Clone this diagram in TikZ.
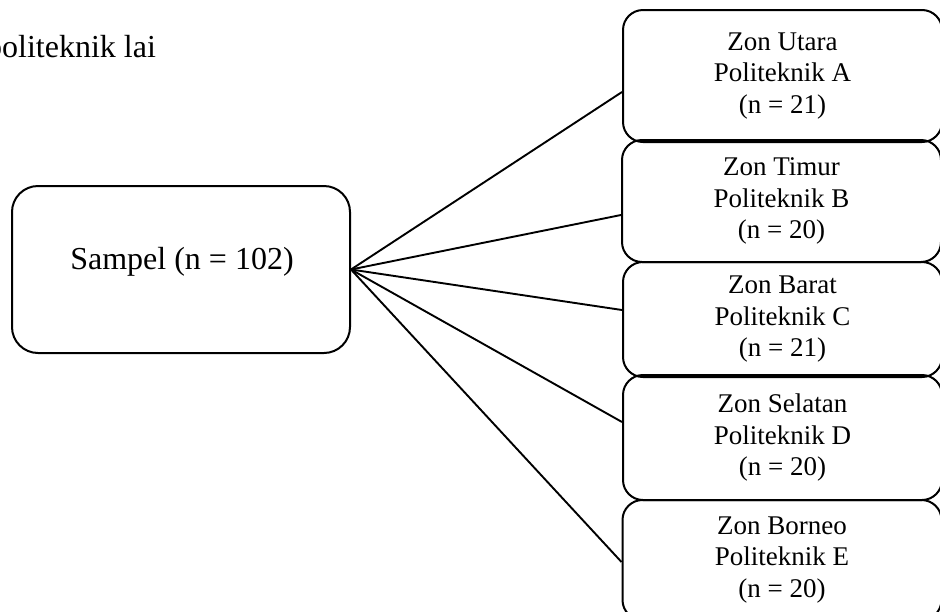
\documentclass[tikz,border=0pt]{standalone}
\usepackage{fontspec}
\setmainfont{Liberation Serif}
\usetikzlibrary{calc}
\begin{document}
\begin{tikzpicture}[x=1pt,y=-1pt,
  line join=round,
  srcbox/.style={draw=black,line width=2pt,rounded corners=26pt,
    minimum width=338pt,minimum height=167pt,inner sep=0pt},
  zonebox/.style={draw=black,line width=2pt,rounded corners=20pt,
    minimum width=319pt,inner sep=0pt,align=center,
    font=\fontsize{27}{31.5}\selectfont},
  link/.style={line width=1.9pt}]
  \useasboundingbox (0,0) rectangle (940,611);

  % running text above the chart
  \node[anchor=base west,inner sep=0pt,font=\fontsize{32}{36}\selectfont]
    (para) at (-14,57) {politeknik lai};

  % whole sample
  \node[srcbox] (s) at (181,269.5) {};
  \node[inner sep=0pt,font=\fontsize{32}{36}\selectfont]
    (stxt) at (182,262) {Sampel (n = 102)};

  % zone boxes
  \node[zonebox,minimum height=132pt] (b1) at (782.5,76)
    {Zon Utara\\Politeknik A\\(n = 21)};
  \node[zonebox,minimum height=122pt] (b2) at (781.5,201)
    {Zon Timur\\Politeknik B\\(n = 20)};
  \node[zonebox,minimum height=115pt] (b3) at (782.5,319.5)
    {Zon Barat\\Politeknik C\\(n = 21)};
  \node[zonebox,minimum height=125pt] (b4) at (782.5,437.5)
    {Zon Selatan\\Politeknik D\\(n = 20)};
  \node[zonebox,minimum height=120pt] (b5) at (782,560)
    {Zon Borneo\\Politeknik E\\(n = 20)};

  % connectors fanning out from the sample box
  \draw[link] (s.east) -- ([yshift=-16pt]b1.west);
  \draw[link] (s.east) -- ([yshift=-14pt]b2.west);
  \draw[link] (s.east) -- ([yshift=9.5pt]b3.west);
  \draw[link] (s.east) -- ([yshift=15.5pt]b4.west);
  \draw[link] (s.east) -- ([yshift=-2pt]b5.west);
\end{tikzpicture}
\end{document}
